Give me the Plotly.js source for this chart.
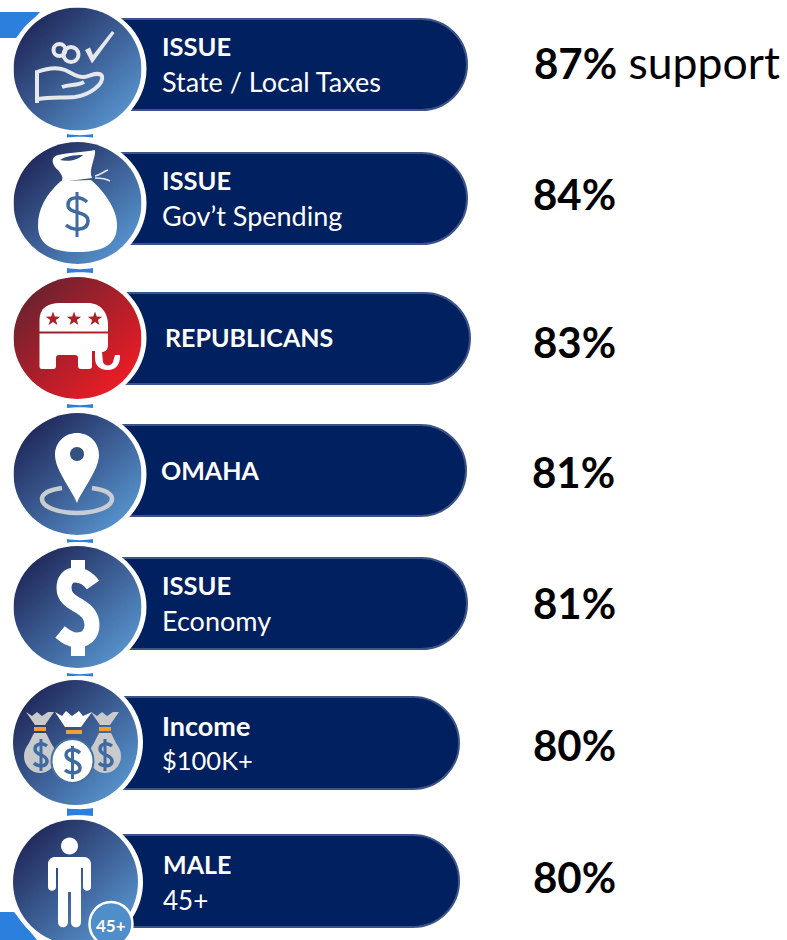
<!DOCTYPE html>
<html><head><meta charset="utf-8">
<script src="https://cdn.plot.ly/plotly-3.0.1.min.js"></script>
<style>html,body{margin:0;padding:0;background:#fff;overflow:hidden}</style>
</head><body><div id="chart" style="width:787px;height:940px"></div>
<script>
// ---- data ----
const headings = ["ISSUE","ISSUE","REPUBLICANS","OMAHA","ISSUE","Income","MALE"];
const subLabels = ["State / Local Taxes","Gov\u2019t Spending","","","Economy","$100K+","45+"];
const supportPct = [87,84,83,81,81,80,80];
const supportSuffix = " support";

// ---- layout helpers (pixel axes) ----
const circleCx = [77.5,77.5,77.5,77.5,77.5,75.5,75.5];
const circleCy = [69,203,338,474,607,742.5,882];
const circleRx = [64,64,64,64,64,62.5,62.5];
const circleRy = [61.5,61,61,61,61,62.5,62.5];
const pillTop = [18,152,292,424,557,696,834];
const pillBottom = [111,245,385,517,650,790,928];
const pillRight = [468,468,471,467,468,460,460];
const headX = [162,162,165,161,162,162,163];
const headY = [50,184,341,474,589,729,868];
const headSize = [25.5,25.5,25,25,25.5,27,25];
const subY = [85,219,null,null,624,764,903];
const subSize = [27,27,27,27,27,25.5,26];
const pctX = [534,533,533,532,533,533,533];
const pctY = [68,199,347,477,608,750,882];
const connectors = [[134,137.5],[268,273],[404,408],[539,543],[673,676.5],[808,816]];
const NAVY="#002060", EDGE="#3c5488", LIGHT="#e6e8ee", WHITE="#ffffff", MID="#3f6ba0", GREY="#c9cacc", ORANGE="#f0a030", RED="#a82228";

function ell(cx,cy,rx,ry){const k=0.5523,a=rx*k,b=ry*k;
  return `M ${cx-rx} ${cy} C ${cx-rx} ${cy-b} ${cx-a} ${cy-ry} ${cx} ${cy-ry} C ${cx+a} ${cy-ry} ${cx+rx} ${cy-b} ${cx+rx} ${cy} C ${cx+rx} ${cy+b} ${cx+a} ${cy+ry} ${cx} ${cy+ry} C ${cx-a} ${cy+ry} ${cx-rx} ${cy+b} ${cx-rx} ${cy} Z`;}
function star(cx,cy,r){let s="";for(let i=0;i<10;i++){const R=i%2?r*0.4:r,t=-Math.PI/2+i*Math.PI/5;s+=(i?"L ":"M ")+(cx+R*Math.cos(t)).toFixed(2)+" "+(cy+R*Math.sin(t)).toFixed(2)+" ";}return s+"Z";}
function pillPath(t,b,r){const h=(b-t)/2,x=r-h,k=h*0.5523;
  return `M 100 ${t} L ${x} ${t} C ${x+k} ${t} ${r} ${t+h-k} ${r} ${t+h} C ${r} ${t+h+k} ${x+k} ${b} ${x} ${b} L 100 ${b} Z`;}
const fillS=(path,color,layer)=>({type:"path",path,xref:"x",yref:"y",fillcolor:color,line:{width:0},layer:layer||"above"});
const lineS=(path,color,w,layer)=>({type:"path",path,xref:"x",yref:"y",fillcolor:"rgba(0,0,0,0)",line:{color,width:w},layer:layer||"above"});

const shapes=[];
// corner tabs
shapes.push(fillS("M 0 12 L 40 12 L 16 38 L 0 38 Z","#2a80dc","below"));
shapes.push(fillS("M 0 912 L 14 912 L 37 940 L 0 940 Z","#2a80dc","below"));
// connectors
connectors.forEach(c=>shapes.push(fillS(`M 67 ${c[0]} C 74 ${c[0]+1.5} 86 ${c[0]+1.5} 93 ${c[0]} L 93 ${c[1]} C 86 ${c[1]-1} 74 ${c[1]-1} 67 ${c[1]} Z`,"#2a80dc","below")));
// pills
pillTop.forEach((t,i)=>{const s=fillS(pillPath(t+1,pillBottom[i]-1,pillRight[i]-1),NAVY,"below");s.line={color:EDGE,width:2};shapes.push(s);});
// white halos
circleCx.forEach((cx,i)=>shapes.push(fillS(ell(cx,circleCy[i],circleRx[i]+5,circleRy[i]+4),WHITE,"below")));

// icon 1: hand, coins, check
shapes.push(fillS("M 85 50 L 90 47.5 L 93 55 L 112 31 L 114.5 33 L 92 63.5 Z",LIGHT));
shapes.push(lineS(ell(59.5,50,6,6),LIGHT,4));
shapes.push(lineS(ell(71,54.5,7.5,7.5),LIGHT,4));
shapes.push(lineS("M 37 103 L 37 72 C 45 69 55 66 65 70 C 72 73 78 78 84 77 C 90 76 99 71 102 76 C 104 84 90 95 75 97 C 63 98 50 97 38 99",LIGHT,4));
shapes.push(lineS("M 62 87 C 70 84 77 86 84 82",LIGHT,4));
// icon 2: money bag
shapes.push(fillS("M 61 181 C 45 195 38 210 38 225 C 38 245 52 252 77 252 C 103 252 117 245 117 225 C 117 210 105 192 91 180 Z",WHITE));
shapes.push(fillS("M 61 182 L 92 178 C 88 170 96 158 95 150 C 85 152 72 152 58 155 C 50 157 52 165 58 170 C 62 175 64 178 61 182 Z",WHITE));
shapes.push(fillS("M 60 160 C 65 156 75 155 83 155 C 78 160 68 162 60 160 Z","#2f4a78"));
shapes.push(lineS("M 95 176 C 100 175 103 172 108 170",LIGHT,1.5));
shapes.push(lineS("M 95 178 C 100 178 105 178 110 181",LIGHT,1.5));
shapes.push(lineS("M 87 202 C 81 196 68 196 68 205 C 68 215 88 210 88 221 C 88 231 73 231 66 225",MID,3.5));
shapes.push(lineS("M 77 192 L 77 237",MID,3));
// icon 3: elephant
shapes.push(fillS("M 39.5 331.5 L 39.5 320 C 39.5 308 48 303 60 303 L 88 303 C 100 303 108 312 108 325 L 108 331.5 Z",WHITE));
shapes.push(fillS("M 39.5 333.5 L 108 333.5 L 108 345 C 108 350 105 352 102 352 L 103 362 C 104 366 111 367 113 362 L 115 355 L 120 355 C 120.5 364 116 370 108 370 C 100 370 95 366 95 358 L 95 351 L 92 351 L 92 366 C 92 368 91 369 89 369 L 81 369 C 79 369 78 368 78 366 L 78 358 C 78 356 77 355 75 355 L 59 355 C 57 355 56 356 56 358 L 56 366 C 56 368 55 369 53 369 L 42 369 C 40 369 39.5 368 39.5 366 Z",WHITE));
[53,74,95].forEach(x=>shapes.push(fillS(star(x,319,7.5),RED)));
// icon 4: map pin
shapes.push(lineS("M 62 488 C 48 490 42 494 42 499 C 42 507 58 513 77 513 C 96 513 112 507 112 499 C 112 494 106 490 92 488","#c9cdd2",4.5));
shapes.push(fillS("M 77 503 C 72 490 55 470 55 455 C 55 442 65 433 77 433 C 89 433 99 442 99 455 C 99 470 82 490 77 503 Z",WHITE));
shapes.push(fillS(ell(77,454,7,7),"#34527f"));
// icon 5: dollar
shapes.push(lineS("M 93 585 C 88 578 82 575 75 575 C 68 575 64 580 64 588 C 64 598 72 602 79 606 C 86 610 92 615 92 625 C 92 634 86 640 77 640 C 70 640 65 636 60 632",WHITE,15));
shapes.push(fillS("M 71 560 L 85 560 L 85 582 L 71 582 Z",WHITE));
shapes.push(fillS("M 71 634 L 85 634 L 85 656 L 71 656 Z",WHITE));
// icon 6: three bags
const backBag=(x)=>[
  fillS(`M ${x-14} 712 L ${x-8} 716 L ${x-3} 712 L ${x+2} 716 L ${x+8} 712 L ${x+14} 712 L ${x+5} 725 L ${x-5} 725 Z`,GREY),
  fillS(`M ${x-6} 727 L ${x+6} 727 L ${x+6} 731 L ${x-6} 731 Z`,ORANGE),
  fillS(ell(x,756,16,17),GREY),
  fillS(`M ${x-6} 733 L ${x+6} 733 L ${x+12} 745 L ${x-12} 745 Z`,GREY)];
backBag(40).concat(backBag(105)).forEach(s=>shapes.push(s));
shapes.push(lineS("M 47 746 C 42 742 35 744 35 749 C 35 756 47 754 47 761 C 47 767 38 767 34 763",MID,3.5));
shapes.push(lineS("M 41 739 L 41 771",MID,3));
shapes.push(lineS("M 112 746 C 107 742 100 744 100 749 C 100 756 112 754 112 761 C 112 767 103 767 99 763",MID,3.5));
shapes.push(lineS("M 105 739 L 105 771",MID,3));
const fb=fillS(ell(72.5,761,21,22),WHITE);fb.line={color:"#44709f",width:2};shapes.push(fb);
shapes.push(fillS("M 55 712 L 62 716 L 66 711 L 72 716 L 79 711 L 83 716 L 92 712 L 81 727 L 65 727 Z",WHITE));
shapes.push(fillS("M 66 730 L 82 730 L 82 734 L 66 734 Z",ORANGE));
shapes.push(lineS("M 80 753 C 75 748 66 749 66 755 C 66 762 80 760 80 768 C 80 774 70 774 65 770",MID,3.5));
shapes.push(lineS("M 72.5 746 L 72.5 779",MID,3));
// icon 7: male
shapes.push(fillS(ell(69.5,846,8.5,8.5),WHITE));
shapes.push(fillS("M 55 857 L 84 857 C 88 857 91 860 91 864 L 91 887 C 91 892 83 892 83 887 L 83 868 L 81 868 L 81 922 C 81 929 71 929 71 922 L 71 892 L 68 892 L 68 922 C 68 929 58 929 58 922 L 58 868 L 56 868 L 56 887 C 56 892 48 892 48 887 L 48 864 C 48 860 51 857 55 857 Z",WHITE));
const badge=fillS(ell(111,924,21.5,22),"#4f8ec9");badge.line={color:WHITE,width:2.5};shapes.push(badge);

// gradient discs as images
function disc(c0,c1){
  const svg=`<svg xmlns="http://www.w3.org/2000/svg" width="256" height="256" viewBox="0 0 100 100"><defs><linearGradient id="g" x1="0.12" y1="0.12" x2="0.88" y2="0.88"><stop offset="0" stop-color="${c0}"/><stop offset="1" stop-color="${c1}"/></linearGradient></defs><circle cx="50" cy="50" r="50" fill="url(#g)"/></svg>`;
  return "data:image/svg+xml;base64,"+btoa(svg);
}
const images=circleCx.map((cx,i)=>({
  source:i===2?disc("#6b2230","#ee1c25"):disc("#20285a","#5793cd"),
  xref:"x",yref:"y",x:cx-circleRx[i],y:circleCy[i]-circleRy[i],
  sizex:2*circleRx[i],sizey:2*circleRy[i],sizing:"stretch",xanchor:"left",yanchor:"top",layer:"above"}));

// ---- traces ----
const FONT="Lato, Carlito, sans-serif";
const headTrace={type:"scatter",mode:"text",x:headX,y:headY,text:headings.map(h=>`<b>${h}</b>`),textposition:"middle right",
  textfont:{family:FONT,size:headSize,color:"#fff"},hoverinfo:"skip",showlegend:false,cliponaxis:false};
const subTrace={type:"scatter",mode:"text",x:headX,y:subY,text:subLabels,textposition:"middle right",
  textfont:{family:FONT,size:subSize,color:"#fff"},hoverinfo:"skip",showlegend:false,cliponaxis:false};
const pctTrace={type:"scatter",mode:"text",x:pctX,y:pctY,
  text:supportPct.map((v,i)=>`<b>${v}%</b>`+(i===0?`<span style="font-size:44.5px">${supportSuffix}</span>`:"")),textposition:"middle right",
  textfont:{family:FONT,size:42,color:"#000"},hoverinfo:"skip",showlegend:false,cliponaxis:false};

const hidden={visible:false,fixedrange:true};
Plotly.newPlot("chart",[headTrace,subTrace,pctTrace],{
  width:787,height:940,margin:{l:0,r:0,t:0,b:0},paper_bgcolor:"#fff",plot_bgcolor:"#fff",showlegend:false,
  xaxis:Object.assign({range:[0,787]},hidden),
  yaxis:Object.assign({range:[940,0]},hidden),
  shapes,images,
  annotations:[{x:111,y:925,xref:"x",yref:"y",text:"<b>45+</b>",showarrow:false,font:{family:FONT,size:17,color:"#fff"}}]
},{displayModeBar:false,staticPlot:true});
</script></body></html>
